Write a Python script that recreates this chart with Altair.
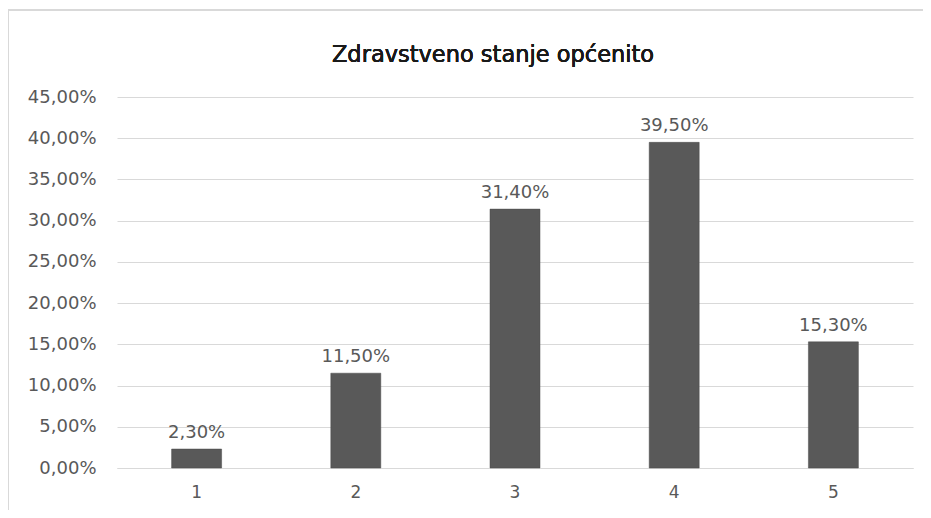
import altair as alt
import pandas as pd

categories = ["1", "2", "3", "4", "5"]
values = [0.023, 0.115, 0.314, 0.395, 0.153]
title_text = "Zdravstveno stanje općenito"

df = pd.DataFrame({"cat": categories, "val": values})

FONT = "DejaVu Sans"
GRAY = "#595959"

base = alt.Chart(df)

x_enc = alt.X("cat:N", sort=categories, title=None,
              scale=alt.Scale(paddingInner=0.686, paddingOuter=0.343),
              axis=alt.Axis(labelAngle=0, ticks=False, domain=True, domainColor="#d9d9d9",
                            labelPadding=16, labelFontSize=17, labelColor=GRAY, labelFont=FONT))
y_enc = alt.Y("val:Q", title=None,
              scale=alt.Scale(domain=[0, 0.45], nice=False),
              axis=alt.Axis(values=[i * 0.05 for i in range(10)], domain=False, ticks=False,
                            labelExpr="replace(format(datum.value, '.2%'), '.', ',')",
                            labelPadding=21, labelFontSize=18, labelColor=GRAY, labelFont=FONT,
                            grid=True, gridColor="#d9d9d9", gridWidth=1))

bars = base.mark_bar(color=GRAY, stroke="#4a4a4a", strokeWidth=0.5).encode(x=x_enc, y=y_enc)

labels = base.transform_calculate(
    lab="replace(format(datum.val, '.2%'), '.', ',')"
).mark_text(baseline="bottom", dy=-7, fontSize=18, color=GRAY, font=FONT).encode(
    x=alt.X("cat:N", sort=categories), y="val:Q", text="lab:N")

title = base.mark_text(fontSize=22.5, font=FONT, color="#1a1a1a", baseline="middle",
                       align="center").encode(
    x=alt.value(376), y=alt.value(-42), text=alt.value(title_text))

top_border = base.mark_rule(color="#d9d9d9", strokeWidth=2, clip=False).encode(
    x=alt.value(-109), x2=alt.value(830), y=alt.value(-87))
left_border = base.mark_rule(color="#d9d9d9", strokeWidth=2, clip=False).encode(
    x=alt.value(-109), y=alt.value(-87), y2=alt.value(440))

chart = alt.layer(top_border, left_border, bars, labels, title).properties(
    width=796, height=371,
    padding={"left": 109, "top": 89, "right": 10, "bottom": 42},
    autosize=alt.AutoSizeParams(type="none"),
).configure_view(stroke=None)

chart.save("out.html", embed_options={"renderer": "svg", "actions": False})
